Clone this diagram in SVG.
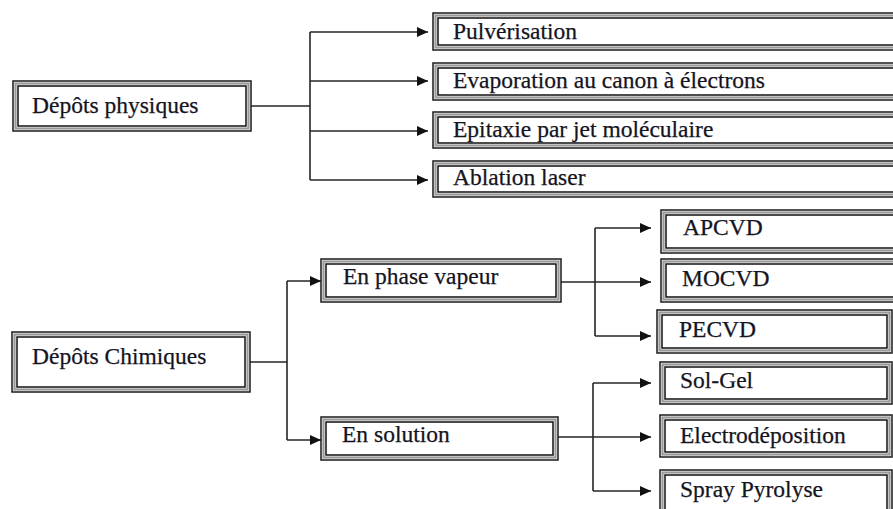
<svg xmlns="http://www.w3.org/2000/svg" width="893" height="509" viewBox="0 0 893 509">
<style>
.o{fill:#fff;stroke:#1a1a1a;stroke-width:1.5}
.m{fill:none;stroke:#9a9a9a;stroke-width:2.2}
.i{fill:none;stroke:#111;stroke-width:1.5}
.t{font-family:"Liberation Serif","Times New Roman",serif;font-size:23.5px;fill:#14141e;stroke:#14141e;stroke-width:0.25}
.c{fill:none;stroke:#262626;stroke-width:1.6}
</style>
<defs>
<marker id="ah" markerUnits="userSpaceOnUse" markerWidth="12" markerHeight="10" refX="11" refY="5" orient="auto">
<path d="M0,0 L11,5 L0,10 z" fill="#111"/>
</marker>
</defs>
<rect width="893" height="509" fill="#fff"/>

<g id="connectors">
<path class="c" d="M251,106 H310 M310,32 V180"/>
<path class="c" marker-end="url(#ah)" d="M310,32 H428"/>
<path class="c" marker-end="url(#ah)" d="M310,81 H428"/>
<path class="c" marker-end="url(#ah)" d="M310,131 H428"/>
<path class="c" marker-end="url(#ah)" d="M310,180 H428"/>
<path class="c" d="M250,362 H287 M287,281 V440"/>
<path class="c" marker-end="url(#ah)" d="M287,281 H321"/>
<path class="c" marker-end="url(#ah)" d="M287,440 H321"/>
<path class="c" d="M561,282 H595 M595,228 V336"/>
<path class="c" marker-end="url(#ah)" d="M595,228 H651"/>
<path class="c" marker-end="url(#ah)" d="M595,282 H651"/>
<path class="c" marker-end="url(#ah)" d="M595,336 H651"/>
<path class="c" d="M558,437 H593 M593,383 V491"/>
<path class="c" marker-end="url(#ah)" d="M593,383 H651"/>
<path class="c" marker-end="url(#ah)" d="M593,437 H651"/>
<path class="c" marker-end="url(#ah)" d="M593,491 H651"/>
</g>

<g id="physiques">
<rect class="o" x="13" y="81" width="238" height="50"/>
<rect class="m" x="15.5" y="83.5" width="233" height="45"/>
<rect class="i" x="18" y="86" width="228" height="40"/>
<text class="t" x="32" y="113">Dépôts physiques</text>
</g>
<g id="pulverisation">
<rect class="o" x="433" y="13" width="480" height="37"/>
<rect class="m" x="435.5" y="15.5" width="475" height="32"/>
<rect class="i" x="438" y="18" width="470" height="27"/>
<text class="t" x="453" y="39">Pulvérisation</text>
</g>
<g id="evaporation">
<rect class="o" x="433" y="63" width="480" height="37"/>
<rect class="m" x="435.5" y="65.5" width="475" height="32"/>
<rect class="i" x="438" y="68" width="470" height="27"/>
<text class="t" x="453" y="88">Evaporation au canon à électrons</text>
</g>
<g id="epitaxie">
<rect class="o" x="433" y="112" width="480" height="36"/>
<rect class="m" x="435.5" y="114.5" width="475" height="31"/>
<rect class="i" x="438" y="117" width="470" height="26"/>
<text class="t" x="453" y="137">Epitaxie par jet moléculaire</text>
</g>
<g id="ablation">
<rect class="o" x="433" y="161" width="480" height="36"/>
<rect class="m" x="435.5" y="163.5" width="475" height="31"/>
<rect class="i" x="438" y="166" width="470" height="26"/>
<text class="t" x="453" y="185">Ablation laser</text>
</g>

<g id="chimiques">
<rect class="o" x="12" y="332" width="238" height="60"/>
<rect class="m" x="14.5" y="334.5" width="233" height="55"/>
<rect class="i" x="17" y="337" width="228" height="50"/>
<text class="t" x="32" y="364">Dépôts Chimiques</text>
</g>
<g id="vapeur">
<rect class="o" x="321" y="259" width="240" height="43"/>
<rect class="m" x="323.5" y="261.5" width="235" height="38"/>
<rect class="i" x="326" y="264" width="230" height="33"/>
<text class="t" x="343" y="284">En phase vapeur</text>
</g>
<g id="solution">
<rect class="o" x="321" y="417" width="237" height="43"/>
<rect class="m" x="323.5" y="419.5" width="232" height="38"/>
<rect class="i" x="326" y="422" width="227" height="33"/>
<text class="t" x="342" y="442">En solution</text>
</g>
<g id="apcvd">
<rect class="o" x="661" y="210" width="250" height="43"/>
<rect class="m" x="663.5" y="212.5" width="245" height="38"/>
<rect class="i" x="666" y="215" width="240" height="33"/>
<text class="t" x="683" y="235">APCVD</text>
</g>
<g id="mocvd">
<rect class="o" x="661" y="259" width="250" height="43"/>
<rect class="m" x="663.5" y="261.5" width="245" height="38"/>
<rect class="i" x="666" y="264" width="240" height="33"/>
<text class="t" x="682" y="286">MOCVD</text>
</g>
<g id="pecvd">
<rect class="o" x="657" y="310" width="235" height="43"/>
<rect class="m" x="659.5" y="312.5" width="230" height="38"/>
<rect class="i" x="662" y="315" width="225" height="33"/>
<text class="t" x="679" y="337">PECVD</text>
</g>
<g id="solgel">
<rect class="o" x="660" y="362" width="232" height="42"/>
<rect class="m" x="662.5" y="364.5" width="227" height="37"/>
<rect class="i" x="665" y="367" width="222" height="32"/>
<text class="t" x="680" y="388">Sol-Gel</text>
</g>
<g id="electrodeposition">
<rect class="o" x="660" y="415" width="232" height="42"/>
<rect class="m" x="662.5" y="417.5" width="227" height="37"/>
<rect class="i" x="665" y="420" width="222" height="32"/>
<text class="t" x="680" y="443">Electrodéposition</text>
</g>
<g id="spray">
<rect class="o" x="660" y="470" width="232" height="50"/>
<rect class="m" x="662.5" y="472.5" width="227" height="45"/>
<rect class="i" x="665" y="475" width="222" height="40"/>
<text class="t" x="680" y="497">Spray Pyrolyse</text>
</g>
</svg>
